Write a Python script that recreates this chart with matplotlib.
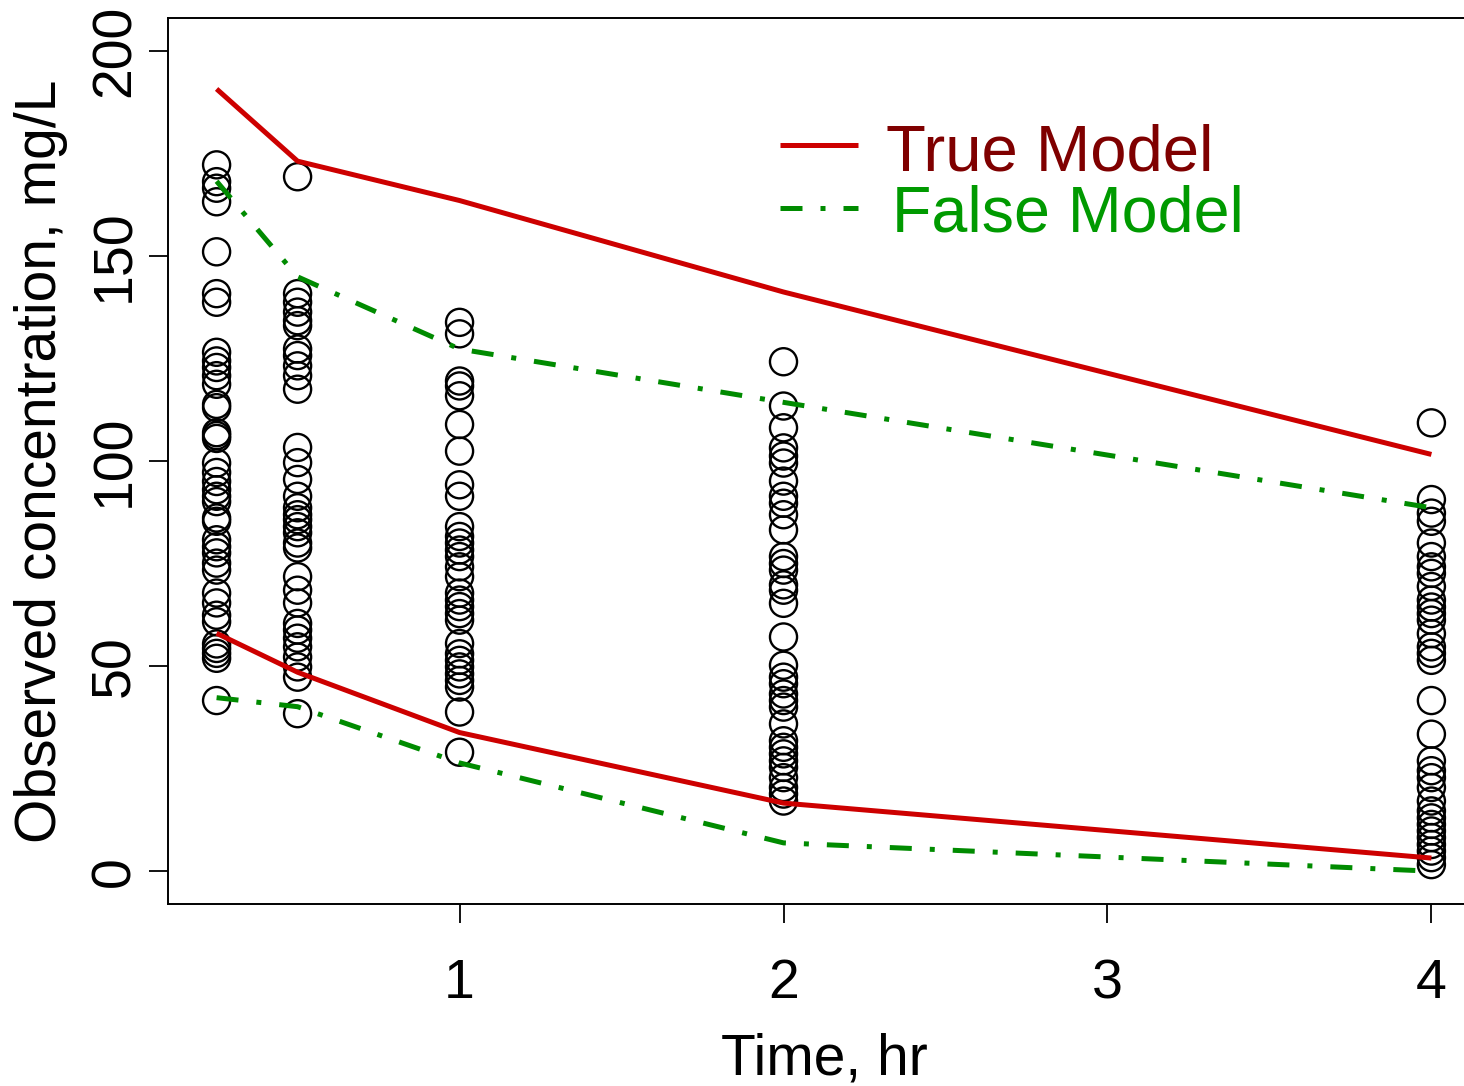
import matplotlib
matplotlib.use("Agg")
import matplotlib.pyplot as plt
import numpy as np

plt.rcParams['font.family'] = ['Liberation Sans', 'DejaVu Sans']

# Observation times (hr)
times = [0.25, 0.5, 1, 2, 4]

# Observed concentrations (mg/L) at each sampling time
conc_025 = [172.2, 168.1, 166.5, 163.2, 151.0, 140.8, 138.7, 126.5, 124.4, 122.8,
            120.8, 118.7, 113.8, 113.0, 106.9, 106.2, 105.5, 99.5, 97.2, 95.0,
            93.0, 91.4, 90.1, 86.1, 85.3, 80.8, 79.1, 77.6, 75.1, 73.4,
            67.8, 65.4, 62.4, 60.8, 55.4, 54.3, 53.1, 51.9, 41.6]
conc_05 = [169.3, 140.8, 138.7, 136.3, 134.2, 133.0, 127.3, 125.7, 123.2, 120.8,
           117.5, 103.3, 99.6, 95.5, 91.4, 88.6, 86.9, 85.7, 84.0, 82.5,
           80.0, 78.8, 71.8, 68.5, 65.4, 60.4, 58.8, 56.8, 54.7, 52.2,
           49.8, 47.3, 38.4]
conc_1 = [133.8, 131.0, 119.5, 118.3, 115.9, 108.9, 102.4, 94.2, 91.4, 84.0,
          81.6, 80.0, 78.3, 76.7, 74.2, 71.8, 67.8, 66.1, 64.5, 62.8,
          61.2, 55.5, 53.0, 51.4, 49.8, 48.1, 46.5, 44.9, 38.8, 29.0]
conc_2 = [124.2, 113.4, 108.1, 103.2, 101.2, 99.5, 95.1, 91.4, 89.7, 86.9,
          83.2, 76.7, 75.0, 73.4, 69.8, 68.5, 65.3, 57.1, 50.2, 47.3,
          45.7, 43.2, 41.6, 40.0, 35.9, 31.8, 30.2, 28.6, 26.9, 25.3,
          22.8, 20.4, 18.8, 17.1]
conc_4 = [109.3, 90.6, 87.3, 85.3, 80.0, 76.7, 74.2, 72.6, 69.4, 66.1,
          64.4, 62.8, 61.2, 57.9, 54.7, 53.1, 51.4, 41.6, 33.4, 26.9,
          24.5, 22.8, 20.4, 17.1, 14.7, 13.0, 11.4, 9.8, 8.2, 6.5,
          4.9, 3.3, 1.6]

# Prediction bounds of the two models
true_upper = [190.7, 173.1, 163.5, 141.2, 101.6]
true_lower = [58.0, 48.5, 33.8, 16.6, 3.2]
false_upper = [168.2, 144.9, 127.3, 114.3, 88.6]
false_lower = [42.3, 40.1, 26.4, 6.9, 0.0]

x_ticks = [1, 2, 3, 4]
y_ticks = [0, 50, 100, 150, 200]

RED = "#CD0000"
GREEN = "#008B00"
LW = 3.6
DOTDASH = (0, (4.4, 3.6, 1.0, 3.6))

W, H = 1464, 1086
fig = plt.figure(figsize=(W / 100, H / 100), dpi=100)
ax = fig.add_axes([168 / W, (H - 904) / H, 1312 / W, 886 / H])

obs = [conc_025, conc_05, conc_1, conc_2, conc_4]
xs = np.concatenate([[t] * len(c) for t, c in zip(times, obs)])
ys = np.concatenate(obs)
ax.scatter(xs, ys, s=19.5 ** 2, facecolors='none', edgecolors='black',
           linewidths=1.7, zorder=2)

ax.plot(times, true_upper, color=RED, lw=LW, solid_capstyle='butt', zorder=3)
ax.plot(times, true_lower, color=RED, lw=LW, solid_capstyle='butt', zorder=3)
ax.plot(times, false_upper, color=GREEN, lw=LW, linestyle=DOTDASH, zorder=3)
ax.plot(times, false_lower, color=GREEN, lw=LW, linestyle=DOTDASH, zorder=3)

ax.set_xlim(0.1, 4.15)
ax.set_ylim(-8, 208)
ax.set_xticks(x_ticks)
ax.set_yticks(y_ticks)
ax.set_xticklabels([str(v) for v in x_ticks])
ax.set_yticklabels([str(v) for v in y_ticks])

for sp in ax.spines.values():
    sp.set_linewidth(1.4)
ax.tick_params(axis='both', direction='out', length=14, width=1.3,
               labelsize=40, colors='black')
ax.tick_params(axis='x', pad=25)
ax.tick_params(axis='y', pad=5)
for lab in ax.get_yticklabels():
    lab.set_rotation(90)
    lab.set_verticalalignment('center')

ax.set_xlabel("Time, hr", fontsize=41)
ax.set_ylabel("Observed concentration, mg/L", fontsize=41)
ax.xaxis.set_label_coords(0.5, -0.145)
ax.yaxis.set_label_coords(-0.076, 0.5)

# Legend: sample line followed by coloured label
legend_rows = [
    ("True Model", RED, '-', "#7F0000", 0.8567, 0.5475, 0.8284, 47),
    ("False Model", GREEN, DOTDASH, "#009A00", 0.7856, 0.5520, 0.7588, 46.5),
]
for label, lc, ls, tc, ly, tx, ty, fs in legend_rows:
    ax.plot([0.4665, 0.5259], [ly, ly], transform=ax.transAxes, color=lc,
            lw=LW, linestyle=ls, solid_capstyle='butt', clip_on=False)
    ax.text(tx, ty, label, transform=ax.transAxes, color=tc,
            fontsize=fs, va='baseline', ha='left')

fig.savefig("out.png", dpi=100)
